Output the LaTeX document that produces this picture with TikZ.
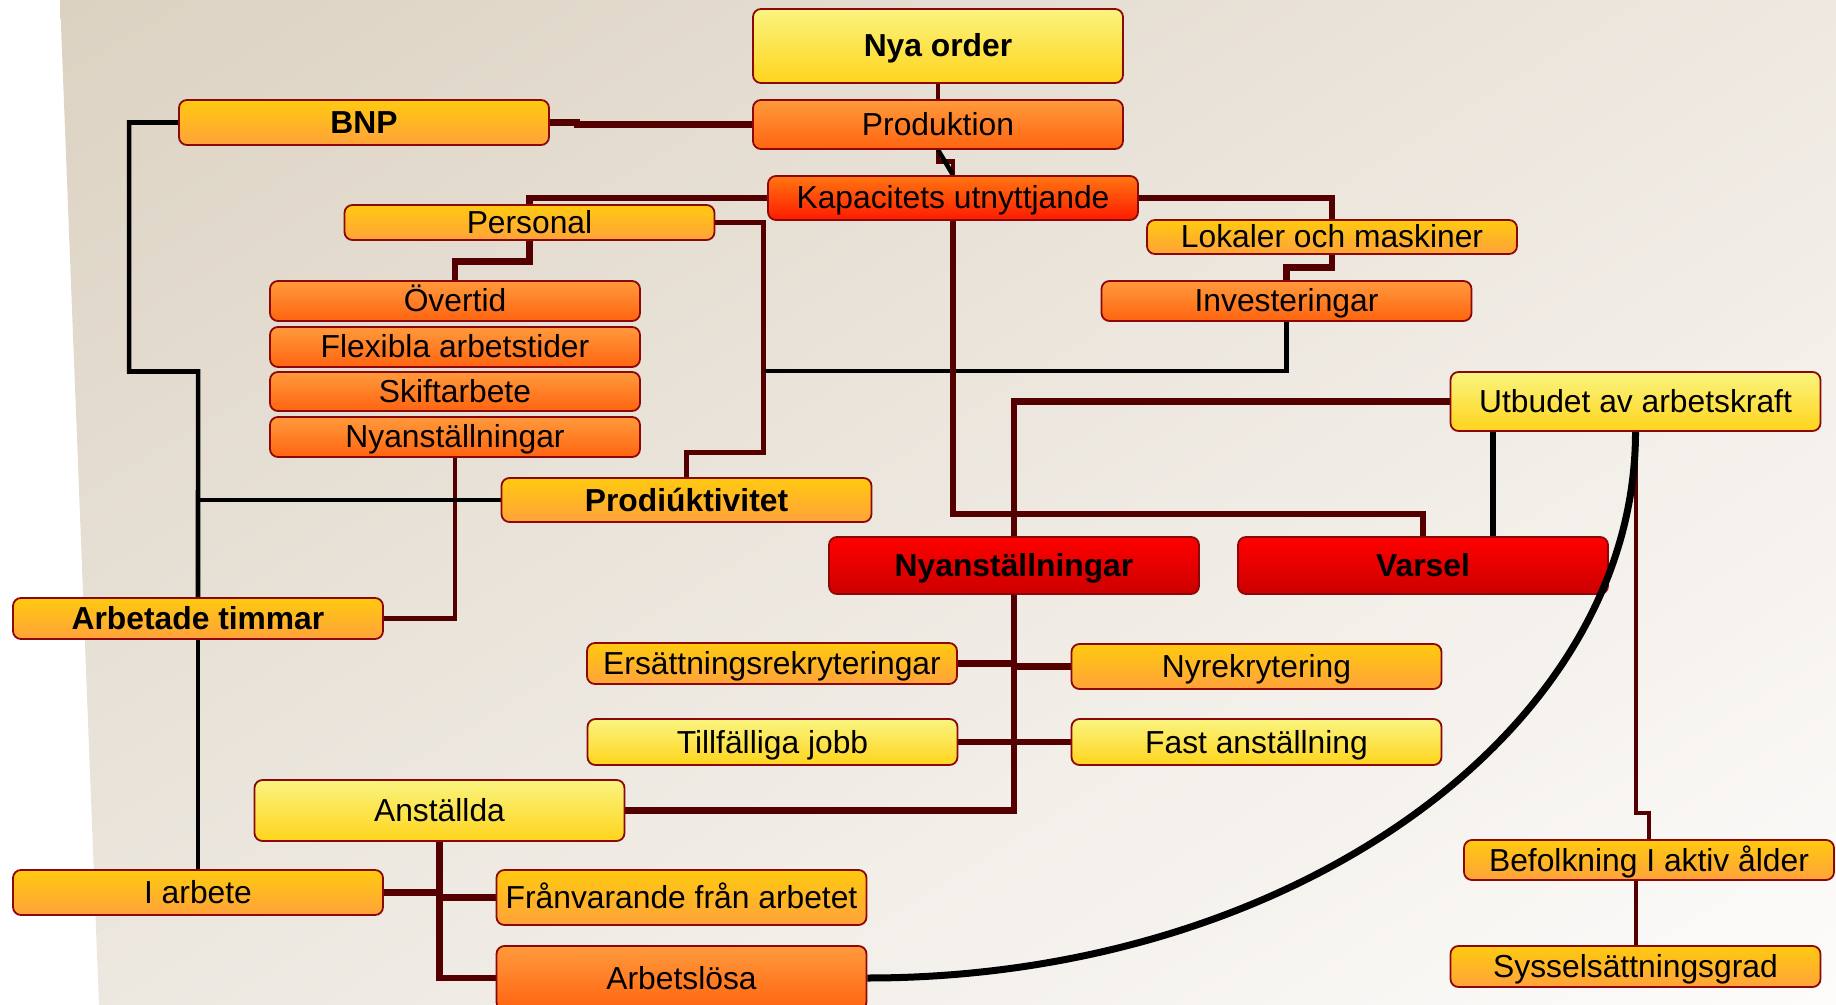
\documentclass[tikz,border=0pt]{standalone}
\usepackage{fontspec}
\setmainfont{Liberation Sans}
\usetikzlibrary{shadings}
\pgfdeclarelayer{paper}
\pgfdeclarelayer{wires}
\pgfsetlayers{paper,wires,main}
\definecolor{wine}{RGB}{85,0,0}
\definecolor{boxedge}{RGB}{140,8,8}
\definecolor{paletop}{RGB}{250,244,128}
\definecolor{palebot}{RGB}{255,212,28}
\definecolor{goldtop}{RGB}{255,202,16}
\definecolor{goldbot}{RGB}{255,162,58}
\definecolor{orngtop}{RGB}{255,154,60}
\definecolor{orngbot}{RGB}{255,100,16}
\definecolor{firetop}{RGB}{255,118,18}
\definecolor{firebot}{RGB}{255,26,0}
\definecolor{redtop}{RGB}{255,0,0}
\definecolor{redbot}{RGB}{204,0,0}
\definecolor{bgul}{RGB}{220,210,194}
\definecolor{bgur}{RGB}{238,232,224}
\definecolor{bgll}{RGB}{236,231,223}
\definecolor{bglr}{RGB}{253,252,251}
\tikzset{
  block/.style={
    rectangle,
    rounded corners=4pt,
    draw=boxedge,
    line width=0.9pt,
    minimum width=185pt,
    minimum height=20pt,
    inner xsep=1pt,
    inner ysep=0.5pt,
    text height=13pt,
    text depth=2pt,
    align=center,
    font=\fontsize{15.9}{18}\selectfont
  },
  pale/.style={block, top color=paletop, bottom color=palebot},
  gold/.style={block, top color=goldtop, bottom color=goldbot},
  orng/.style={block, top color=orngtop, bottom color=orngbot},
  fire/.style={block, top color=firetop, bottom color=firebot},
  alarm/.style={block, top color=redtop, bottom color=redbot}
}
\tikzstyle{wire} = [draw=wine, line width=3.4pt]
\tikzstyle{thinwire} = [draw=wine, line width=2.4pt]
\tikzstyle{link} = [draw=black, line width=2.3pt]
\def\head#1{\textbf{#1}}

\begin{document}
\begin{tikzpicture}[x=0.5pt, y=-0.5pt]
    \useasboundingbox (0,0) rectangle (1836,1005);
    \begin{pgfonlayer}{paper}
      \shade[upper left=bgul, upper right=bgur, lower left=bgll, lower right=bglr]
        (60,0) -- (1836,0) -- (1836,1005) -- (99,1005) -- cycle;
    \end{pgfonlayer}
    % top
    \node[pale, minimum height=37pt] (nya) at (938,46) {\head{Nya order}};
    \node[orng, minimum height=24.5pt] (prod) at (938,124.5) {Produktion};
    \node[gold, minimum height=22.5pt] (bnp) at (364,122.5) {\head{BNP}};
    \node[fire, minimum height=22pt] (kap) at (953,198) {Kapacitets utnyttjande};
    \node[gold, minimum height=17.5pt] (pers) at (529.5,222.5) {Personal};
    \node[gold, minimum height=17pt] (lok) at (1332,237) {Lokaler och maskiner};
    \node[orng] (inv) at (1286.5,301) {Investeringar};
    % personal stack
    \node[orng] (over) at (455,301) {Övertid};
    \node[orng] (flex) at (455,347) {Flexibla arbetstider};
    \node[orng, minimum height=19.5pt] (skift) at (455,391.5) {Skiftarbete};
    \node[orng] (nyor) at (455,437) {Nyanställningar};
    \node[pale, minimum height=29.5pt] (utb) at (1635.5,401.5) {Utbudet av arbetskraft};
    \node[gold, minimum height=22pt] (prodk) at (686.5,500) {\head{Prodiúktivitet}};
    \node[alarm, minimum height=28.5pt] (nyred) at (1014,565.5) {\head{Nyanställningar}};
    \node[alarm, minimum height=28.5pt] (varsel) at (1423,565.5) {\head{Varsel}};
    \node[gold, minimum height=20.5pt] (arb) at (198,618.5) {\head{Arbetade timmar}};
    % hiring
    \node[gold, minimum height=20.5pt] (ers) at (772,663.5) {Ersättningsrekryteringar};
    \node[gold, minimum height=22.5pt] (nyrek) at (1256.5,666.5) {Nyrekrytering};
    \node[pale, minimum height=23pt] (tillf) at (772.5,742) {Tillfälliga jobb};
    \node[pale, minimum height=23pt] (fast) at (1256.5,742) {Fast anställning};
    % bottom
    \node[pale, minimum height=30.5pt] (anst) at (439.5,810.5) {Anställda};
    \node[gold, minimum height=22.5pt] (iarb) at (198,892.5) {I arbete};
    \node[gold, minimum height=27.5pt] (franv) at (681.5,897.5) {Frånvarande från arbetet};
    \node[orng, minimum height=32pt] (arbl) at (681.5,978) {Arbetslösa};
    \node[gold] (bef) at (1649,860) {Befolkning I aktiv ålder};
    \node[gold, minimum height=20.5pt] (syss) at (1635.5,966.5) {Sysselsättningsgrad};

    \begin{pgfonlayer}{wires}
      \draw[thinwire] (nya.south) -- (prod.north);
      \draw[wire] (bnp.east) -- ++(27,0) |- (prod.west);
      \draw[thinwire] (prod.south) -- ++(0,12) -| (kap.north);
      \draw[link] (prod.south) -- (kap.north);
      \draw[wire] (kap.west) -| (pers.north);
      \draw[wire] (kap.east) -| (lok.north);
      \draw[wire] (lok.south) -- ++(0,13) -| (inv.north);
      \draw[wire] (pers.south) -- ++(0,21) -| (over.north);
      \draw[thinwire] (pers.east) -| ++(48,230) -| (prodk.north);
      \coordinate (kx) at (765,371);
      \draw[link] (inv.south) |- (kx);
      \draw[thinwire] (nyor.south) |- (arb.east);
      \draw[link] (bnp.west) -- ++(-49,0) |- ++(69,249) -- (arb.north);
      \draw[link] (prodk.west) -- (prodk.west -| arb.north);
      \draw[link] (arb.south) -- (iarb.north);
      \draw[wire] (kap.south) -- ++(0,293) -| (varsel.north);
      \draw[wire] (utb.west) -| (nyred.north);
      \draw[wire] (nyred.south) |- (anst.east);
      \draw[wire] (ers.east) -- (ers.east -| nyred.south);
      \draw[wire] (nyrek.west) -- (nyrek.west -| nyred.south);
      \draw[wire] (tillf.east) -- (tillf.east -| nyred.south);
      \draw[wire] (fast.west) -- (fast.west -| nyred.south);
      \draw[link, line width=3pt] (utb.south) ++(-142.5,0) coordinate (ub) -- (ub |- varsel.north);
      \draw[thinwire, line width=2pt] (utb.south) -- ++(0,381) -| (bef.north);
      \draw[thinwire, line width=2pt] (syss.north |- bef.south) -- (syss.north);
      \draw[wire] (anst.south) |- (arbl.west);
      \draw[wire] (franv.west) -- (franv.west -| anst.south);
      \draw[wire] (iarb.east) -- (iarb.east -| anst.south);
    \end{pgfonlayer}
    \draw[link, line width=3.5pt] (arbl.east) .. controls +(423,0) and +(0,300) .. (utb.south);
  \end{tikzpicture}
\end{document}
